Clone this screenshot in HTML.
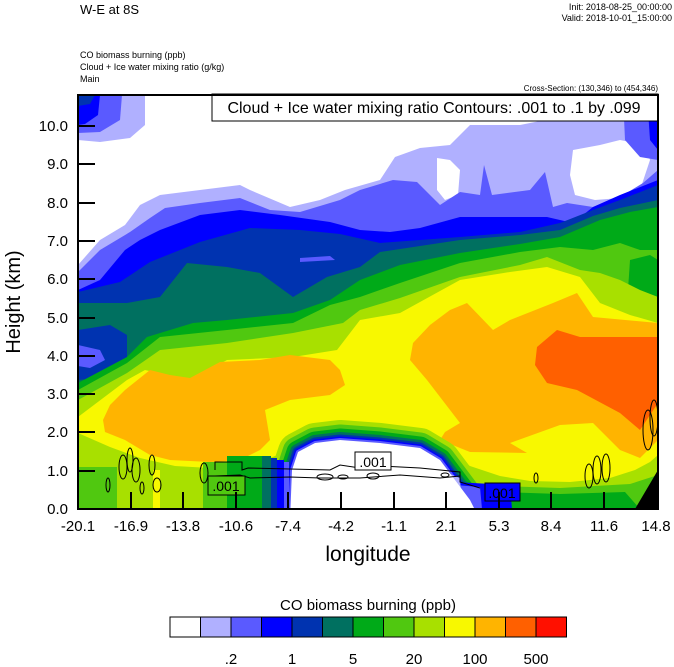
<!DOCTYPE html>
<html><head><meta charset="utf-8"><style>
html,body{margin:0;padding:0;background:#fff;width:674px;height:667px;overflow:hidden}
svg{display:block;font-family:"Liberation Sans",sans-serif}
</style></head><body>
<svg width="674" height="667" viewBox="0 0 674 667" xmlns="http://www.w3.org/2000/svg">
<defs><clipPath id="pc"><rect x="78" y="95" width="580" height="414"/></clipPath></defs>
<text x="80" y="14" font-size="13">W-E at 8S</text>
<text x="672" y="10" font-size="9" text-anchor="end">Init: 2018-08-25_00:00:00</text>
<text x="672" y="21" font-size="9" text-anchor="end">Valid: 2018-10-01_15:00:00</text>
<text x="80" y="58" font-size="9">CO biomass burning   (ppb)</text>
<text x="80" y="70" font-size="9">Cloud + Ice water mixing ratio   (g/kg)</text>
<text x="80" y="82" font-size="9">Main</text>
<text x="658" y="91" font-size="8" text-anchor="end">Cross-Section: (130,346) to (454,346)</text>
<g clip-path="url(#pc)">
<rect x="78" y="95" width="580" height="414" fill="#fff"/>
<polygon fill="#b0b0ff" points="78,265 100,240 125,225 140,205 160,195 200,190 240,185 250,190 290,207 320,200 345,190 380,180 395,157 420,148 450,145 470,125 520,125 545,120 560,100 575,95 658,95 658,509 78,509"/>
<polygon fill="#fff" points="573,150 600,145 620,140 645,145 650,160 640,190 620,198 595,200 575,195 570,175"/>
<polygon fill="#fff" points="437,158 450,160 460,170 458,195 445,200 437,190"/>
<polygon fill="#5a5aff" points="78,272 100,250 130,232 150,218 165,208 200,203 240,198 270,210 300,212 340,200 360,190 393,180 417,182 440,205 460,192 480,195 484,165 492,195 530,190 545,172 553,207 567,203 593,207 620,197 643,183 658,170 658,509 78,509"/>
<polygon fill="#5a5aff" points="623,95 658,95 658,160 640,157 625,140"/>
<polygon fill="#0000ff" points="647,95 658,95 658,150 650,140"/>
<polygon fill="#0000ff" points="78,290 100,280 125,250 140,240 160,230 200,215 240,210 280,215 330,222 360,230 390,232 420,228 460,217 547,217 573,223 593,207 620,195 658,180 658,509 78,509"/>
<polygon fill="#0033b0" points="78,292 120,282 150,262 200,242 250,228 300,230 340,234 380,243 420,240 460,237 520,232 560,223 593,210 620,200 658,185 658,509 78,509"/>
<polygon fill="#007060" points="78,303 127,303 160,297 187,263 227,267 260,273 293,297 327,277 360,267 380,252 420,246 460,240 520,235 560,230 593,216 620,208 658,200 658,509 78,509"/>
<polygon fill="#0033b0" points="78,330 110,325 127,335 127,365 110,377 78,380"/>
<polygon fill="#5a5aff" points="78,345 100,350 105,360 90,368 78,366"/>
<polygon fill="#00aa18" points="78,383 127,357 147,337 193,323 227,320 293,313 330,300 360,280 400,265 460,253 520,244 560,237 600,220 630,212 658,207 658,509 78,509"/>
<polygon fill="#50c810" points="78,390 127,363 160,337 227,330 293,323 330,305 360,297 400,283 460,263 520,252 560,247 593,250 620,243 640,250 658,250 658,509 78,509"/>
<polygon fill="#00aa18" points="630,260 650,255 658,260 658,300 645,310 628,290"/>
<polygon fill="#a8e000" points="78,400 127,373 160,350 227,343 293,333 343,323 360,310 400,298 460,277 520,265 547,257 580,270 600,273 620,280 640,290 658,297 658,509 78,509"/>
<polygon fill="#f8f800" points="78,417 127,380 145,370 190,380 227,360 293,357 337,350 360,320 400,313 460,280 510,272 547,267 580,277 600,303 630,315 658,323 658,509 78,509"/>
<polygon fill="#ffb400" points="103,420 110,405 125,390 140,378 150,370 170,375 190,378 220,362 260,360 290,355 330,360 340,370 345,385 330,395 290,400 265,410 270,440 260,450 240,460 210,462 170,460 150,455 125,440 105,432"/>
<polygon fill="#ffb400" points="413,343 430,325 450,310 467,303 493,330 510,320 553,303 577,293 593,317 658,323 658,440 640,458 620,450 593,423 560,425 510,443 527,453 470,452 440,440 445,432 460,423 427,380 410,360"/>
<polygon fill="#ff6000" points="537,347 557,330 580,337 658,337 658,403 640,430 620,413 577,390 547,383 535,365"/>
<polygon fill="#a8e000" points="78,433 110,447 140,458 175,466 210,468 250,466 275,456 300,450 440,450 470,466 500,476 530,481 570,482 610,478 635,470 650,462 658,455 658,509 78,509"/>
<polygon fill="#50c810" points="500,486 560,488 630,484 658,475 658,509 490,509"/>
<polygon fill="#00aa18" points="500,492 560,494 625,492 640,509 495,509"/>
<polygon fill="#50c810" points="78,467 117,467 117,509 78,509"/>
<rect x="153" y="470" width="7" height="39" fill="#f8f800"/>
<g fill="none" stroke-linejoin="round">
<path d="M290,520 L292,470 L298,452 L315,443 L340,440 L380,443 L420,448 L440,460 L455,480 L470,500 L480,520" stroke="#a8e000" stroke-width="40"/>
<path d="M290,520 L292,470 L298,452 L315,443 L340,440 L380,443 L420,448 L440,460 L455,480 L470,500 L480,520" stroke="#50c810" stroke-width="31"/>
<path d="M290,520 L292,470 L298,452 L315,443 L340,440 L380,443 L420,448 L440,460 L455,480 L470,500 L480,520" stroke="#00aa18" stroke-width="23"/>
<path d="M290,520 L292,470 L298,452 L315,443 L340,440 L380,443 L420,448 L440,460 L455,480 L470,500 L480,520" stroke="#007060" stroke-width="16"/>
<path d="M290,520 L292,470 L298,452 L315,443 L340,440 L380,443 L420,448 L440,460 L455,480 L470,500 L480,520" stroke="#0033b0" stroke-width="11"/>
<path d="M290,520 L292,470 L298,452 L315,443 L340,440 L380,443 L420,448 L440,460 L455,480 L470,500 L480,520" stroke="#0000ff" stroke-width="7"/>
<path d="M290,520 L292,470 L298,452 L315,443 L340,440 L380,443 L420,448 L440,460 L455,480 L470,500 L480,520" stroke="#5a5aff" stroke-width="4"/>
</g>
<rect x="203" y="462" width="24" height="47" fill="#50c810"/>
<rect x="227" y="456" width="35" height="53" fill="#00aa18"/>
<rect x="262" y="456" width="9" height="53" fill="#007060"/>
<rect x="271" y="458" width="6" height="51" fill="#0033b0"/>
<rect x="277" y="460" width="7" height="49" fill="#0000ff"/>
<rect x="284" y="462" width="5" height="47" fill="#5a5aff"/>
<polygon fill="#0000ff" points="455,482 510,485 512,509 460,509"/>
<polygon fill="#5a5aff" points="455,485 480,487 482,509 458,509"/>
<polygon fill="#b0b0ff" points="440,470 460,478 462,509 440,509"/>
<path d="M290,520 L292,470 L298,452 L315,443 L340,440 L380,443 L420,448 L440,460 L455,480 L470,500 L480,520 Z" fill="#fff"/>
<polygon fill="#000" points="635,509 658,470 658,509"/>
<polygon fill="#b0b0ff" points="78,95 145,95 145,125 130,138 100,142 78,140"/>
<polygon fill="#5a5aff" points="78,95 122,95 120,120 100,132 78,133"/>
<polygon fill="#0000ff" points="78,95 100,95 98,115 85,124 78,125"/>
<polygon fill="#0033b0" points="78,95 95,95 90,104 78,106"/>
<polygon fill="#5a5aff" points="300,258 330,256 335,260 300,262"/>
<g fill="none" stroke="#000" stroke-width="1">
<ellipse cx="108" cy="485" rx="2" ry="7"/><ellipse cx="123" cy="467" rx="4" ry="12"/><ellipse cx="130" cy="460" rx="3" ry="12"/>
<ellipse cx="136" cy="470" rx="4" ry="12"/><ellipse cx="142" cy="488" rx="2" ry="6"/><ellipse cx="152" cy="465" rx="3" ry="10"/>
<ellipse cx="157" cy="485" rx="4" ry="7"/><ellipse cx="204" cy="473" rx="4" ry="10"/>
<path d="M215,470 L215,462 L242,462 L242,470 L248,468 L330,470 L340,465 L360,468 L380,466 L420,468 L460,472 L460,482 L480,488"/>
<path d="M215,476 L240,475 L250,478 L290,477 L320,478 L360,478 L400,475 L440,478 L460,476"/>
<ellipse cx="325" cy="477" rx="8" ry="3"/><ellipse cx="343" cy="477" rx="5" ry="2"/><ellipse cx="373" cy="476" rx="6" ry="3"/>
<ellipse cx="445" cy="475" rx="4" ry="2"/><ellipse cx="536" cy="478" rx="2" ry="5"/>
<ellipse cx="589" cy="476" rx="4" ry="12"/><ellipse cx="597" cy="470" rx="4" ry="14"/><ellipse cx="606" cy="468" rx="4" ry="14"/>
<ellipse cx="648" cy="430" rx="5" ry="20"/><ellipse cx="654" cy="418" rx="4" ry="18"/>
</g>
<g font-size="14" text-anchor="middle">
<rect x="208" y="476" width="37" height="19" fill="#50c810" stroke="#000"/><text x="226" y="491">.001</text>
<rect x="355" y="452" width="36" height="18" fill="#fff" stroke="#000"/><text x="373" y="467">.001</text>
<rect x="485" y="483" width="35" height="18" fill="#0000ff" stroke="#000"/><text x="502" y="498">.001</text>
</g>
</g>
<rect x="212" y="94" width="446" height="27" fill="#fff" stroke="#000"/>
<text x="434" y="113" font-size="16" text-anchor="middle">Cloud + Ice water mixing ratio Contours: .001 to .1 by .099</text>
<rect x="78" y="95" width="580" height="414" fill="none" stroke="#000" stroke-width="2"/>
<g stroke="#000" stroke-width="2">
<path d="M78,509h17M78,471h17M78,432h17M78,394h17M78,356h17M78,318h17M78,279h17M78,241h17M78,203h17M78,164h17M78,126h17"/>
<path d="M131,509v-17M183,509v-17M236,509v-17M288,509v-17M341,509v-17M394,509v-17M446,509v-17M499,509v-17M551,509v-17M604,509v-17"/>
</g>
<g font-size="15" text-anchor="end">
<text x="68" y="514">0.0</text><text x="68" y="476">1.0</text><text x="68" y="437">2.0</text><text x="68" y="399">3.0</text><text x="68" y="361">4.0</text><text x="68" y="323">5.0</text><text x="68" y="284">6.0</text><text x="68" y="246">7.0</text><text x="68" y="208">8.0</text><text x="68" y="169">9.0</text><text x="68" y="131">10.0</text>
</g>
<g font-size="15" text-anchor="middle">
<text x="78" y="531">-20.1</text><text x="131" y="531">-16.9</text><text x="183" y="531">-13.8</text><text x="236" y="531">-10.6</text><text x="288" y="531">-7.4</text><text x="341" y="531">-4.2</text><text x="394" y="531">-1.1</text><text x="446" y="531">2.1</text><text x="499" y="531">5.3</text><text x="551" y="531">8.4</text><text x="604" y="531">11.6</text><text x="656" y="531">14.8</text>
</g>
<text x="368" y="561" font-size="21" text-anchor="middle">longitude</text>
<text transform="translate(20,302) rotate(-90)" font-size="20" text-anchor="middle">Height (km)</text>
<text x="368" y="610" font-size="15" text-anchor="middle">CO biomass burning  (ppb)</text>
<g stroke="#000" stroke-width="1">
<rect x="170" y="617" width="30.5" height="20" fill="#fff"/>
<rect x="200.5" y="617" width="30.5" height="20" fill="#b0b0ff"/>
<rect x="231" y="617" width="30.5" height="20" fill="#5a5aff"/>
<rect x="261.5" y="617" width="30.5" height="20" fill="#0000ff"/>
<rect x="292" y="617" width="30.5" height="20" fill="#0033b0"/>
<rect x="322.5" y="617" width="30.5" height="20" fill="#007060"/>
<rect x="353" y="617" width="30.5" height="20" fill="#00aa18"/>
<rect x="383.5" y="617" width="30.5" height="20" fill="#50c810"/>
<rect x="414" y="617" width="30.5" height="20" fill="#a8e000"/>
<rect x="444.5" y="617" width="30.5" height="20" fill="#f8f800"/>
<rect x="475" y="617" width="30.5" height="20" fill="#ffb400"/>
<rect x="505.5" y="617" width="30.5" height="20" fill="#ff6000"/>
<rect x="536" y="617" width="30.5" height="20" fill="#ff1000"/>
</g>
<g font-size="15" text-anchor="middle">
<text x="231" y="664">.2</text><text x="292" y="664">1</text><text x="353" y="664">5</text><text x="414" y="664">20</text><text x="475" y="664">100</text><text x="536" y="664">500</text>
</g>
</svg>
</body></html>
